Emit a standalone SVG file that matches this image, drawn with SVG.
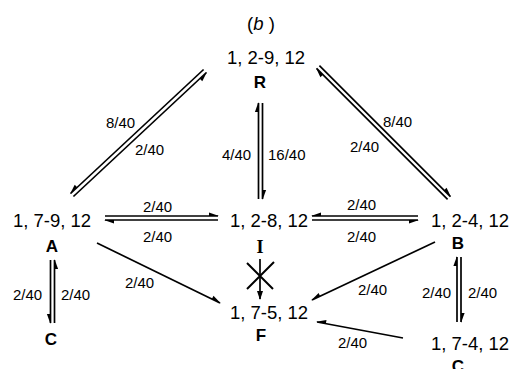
<svg xmlns="http://www.w3.org/2000/svg" width="511" height="369" viewBox="0 0 511 369">
<style>
.t{font-family:"Liberation Sans",Arial,sans-serif;font-size:18.5px;fill:#000}
.l{font-family:"Liberation Sans",Arial,sans-serif;font-size:15px;fill:#000}
.b{font-family:"Liberation Sans",Arial,sans-serif;font-size:17px;font-weight:bold;fill:#000;text-anchor:middle}
.s{font-family:"Liberation Serif","Times New Roman",serif;font-size:18px;font-weight:bold;fill:#000;text-anchor:middle}
.c path{fill:none;stroke:#000;stroke-width:1.7}
.p{marker-end:url(#hp)}
.m{marker-end:url(#hm)}
</style>
<defs>
<marker id="hp" markerUnits="userSpaceOnUse" viewBox="-11 -5 13 10" refX="0" refY="0" markerWidth="13" markerHeight="10" orient="auto" overflow="visible">
<path d="M1,0 L-9,3.6 L-9,0 Z" fill="#000"/>
</marker>
<marker id="hm" markerUnits="userSpaceOnUse" viewBox="-11 -5 13 10" refX="0" refY="0" markerWidth="13" markerHeight="10" orient="auto" overflow="visible">
<path d="M1,0 L-9,-3.6 L-9,0 Z" fill="#000"/>
</marker>
<marker id="fa" markerUnits="userSpaceOnUse" viewBox="-11 -5 13 10" refX="0" refY="0" markerWidth="13" markerHeight="10" orient="auto" overflow="visible">
<path d="M1,0 L-8,3 L-8,-3 Z" fill="#000"/>
</marker>
</defs>

<text x="261" y="30" class="t" text-anchor="middle">(<tspan font-style="italic">b</tspan> )</text>

<g id="R"><text x="266" y="64" class="t" text-anchor="middle">1, 2-9, 12</text><text x="260" y="88" class="b">R</text></g>
<g id="A"><text x="52" y="227" class="t" text-anchor="middle">1, 7-9, 12</text><text x="52" y="252" class="b">A</text></g>
<g id="I"><text x="269" y="227" class="t" text-anchor="middle">1, 2-8, 12</text><text x="260" y="253" class="s">I</text></g>
<g id="B"><text x="470" y="227" class="t" text-anchor="middle">1, 2-4, 12</text><text x="458" y="249" class="b">B</text></g>
<g id="F"><text x="269" y="319" class="t" text-anchor="middle">1, 7-5, 12</text><text x="261" y="341" class="b">F</text></g>
<g id="CA"><text x="51" y="345" class="b">C</text></g>
<g id="CB"><text x="470" y="350" class="t" text-anchor="middle">1, 7-4, 12</text><text x="458" y="372" class="b">C</text></g>

<g id="connectors" class="c">
<path class="p" d="M203.6,69.5 L70.6,193.5"/>
<path class="p" d="M73.4,196.5 L206.4,72.5"/>
<path class="m" d="M319.4,65.6 L450.4,196.6"/>
<path class="m" d="M447.6,199.4 L316.6,68.4"/>
<path class="m" d="M258.5,199 L258.5,103"/>
<path class="m" d="M262.5,103 L262.5,199"/>
<path class="m" d="M105,216 L218,216"/>
<path class="m" d="M218,220 L105,220"/>
<path class="p" d="M418,216 L312,216"/>
<path class="p" d="M312,220 L418,220"/>
<path class="p" d="M50.5,260 L50.5,323"/>
<path class="p" d="M54.5,323 L54.5,260"/>
<path class="m" d="M457,322 L457,257"/>
<path class="m" d="M461,257 L461,322"/>
<path class="m" d="M97,243 L220,303"/>
<path class="p" d="M435,242 L312,300"/>
<path class="p" d="M403,338 L317,322"/>
<path d="M260,259 L260,299" marker-end="url(#fa)"/>
<path d="M247,263 L273,289 M274,262 L247,289" style="stroke-width:2"/>
</g>

<g id="labels">
<text x="106" y="128" class="l">8/40</text>
<text x="135" y="155" class="l">2/40</text>
<text x="383" y="127" class="l">8/40</text>
<text x="350" y="152" class="l">2/40</text>
<text x="222" y="160" class="l">4/40</text>
<text x="268" y="160" class="l">16/40</text>
<text x="143" y="212" class="l">2/40</text>
<text x="143" y="242" class="l">2/40</text>
<text x="347" y="210" class="l">2/40</text>
<text x="347" y="242" class="l">2/40</text>
<text x="125" y="288" class="l">2/40</text>
<text x="13" y="300" class="l">2/40</text>
<text x="61" y="300" class="l">2/40</text>
<text x="358" y="295" class="l">2/40</text>
<text x="422" y="298" class="l">2/40</text>
<text x="468" y="298" class="l">2/40</text>
<text x="338" y="348" class="l">2/40</text>
</g>
</svg>
